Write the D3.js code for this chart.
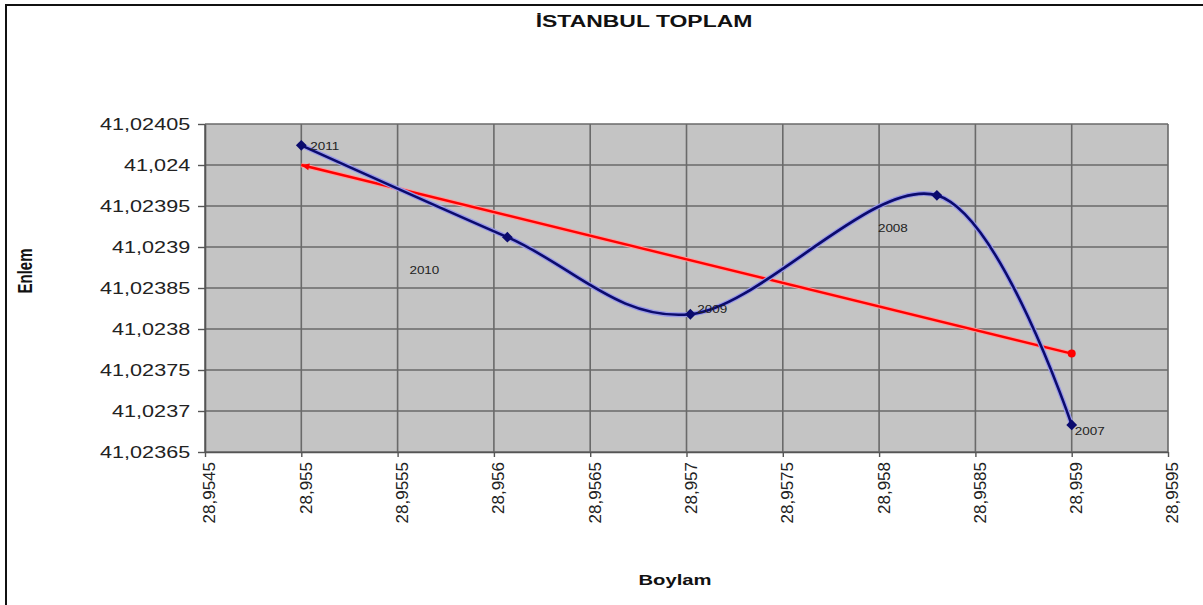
<!DOCTYPE html>
<html>
<head>
<meta charset="utf-8">
<script src="https://cdn.jsdelivr.net/npm/d3@7"></script>
<style>
  html, body { margin: 0; padding: 0; background: #fff; }
  svg { display: block; font-family: "Liberation Sans", Arial, sans-serif; }
</style>
</head>
<body>
<div id="chart"></div>
<script>
// data
const years = ['2011', '2010', '2009', '2008', '2007']
const boylam = [28.955, 28.95607, 28.95702, 28.9583, 28.959]
const enlem = [41.024024, 41.023912, 41.023818, 41.023963, 41.023683]

// linear trend line, the two ends as drawn
const trendBoylam = [28.955, 28.959]
const trendEnlem = [41.024, 41.02377]

const xTicks = [28.9545, 28.955, 28.9555, 28.956, 28.9565, 28.957, 28.9575, 28.958, 28.9585, 28.959, 28.9595]
const yTicks = [41.02365, 41.0237, 41.02375, 41.0238, 41.02385, 41.0239, 41.02395, 41.024, 41.02405]

const width = 1203
const height = 605
const margin = { top: 124, right: 35, bottom: 153, left: 205 }
const stretch = 1.35 // text in the picture is widened horizontally

const loc = d3.formatLocale({ decimal: ',', thousands: '.', grouping: [3], currency: ['', ''] })
const fmtY = loc.format('.5~f')
const fmtX = loc.format('.4~f')

const svg = d3.select('#chart')
  .append('svg')
  .attr('width', width)
  .attr('height', height)

// outer chart border (top + left only visible)
svg.append('path')
  .attr('d', `M6,${height} V5 H${width}`)
  .attr('fill', 'none')
  .attr('stroke', '#111')
  .attr('stroke-width', 2)

const x = d3.scaleLinear()
  .domain([xTicks[0], xTicks[xTicks.length - 1]])
  .range([margin.left, width - margin.right])

const y = d3.scaleLinear()
  .domain([yTicks[0], yTicks[yTicks.length - 1]])
  .range([height - margin.bottom, margin.top])

// plot area
svg.append('rect')
  .attr('x', x.range()[0])
  .attr('y', y.range()[1])
  .attr('width', x.range()[1] - x.range()[0])
  .attr('height', y.range()[0] - y.range()[1])
  .attr('fill', '#c4c4c4')

// gridlines
const grid = svg.append('g').attr('stroke', '#6a6a6a').attr('stroke-width', 1.6)
grid.selectAll('.gx')
  .data(xTicks)
  .join('line')
  .attr('x1', d => x(d)).attr('x2', d => x(d))
  .attr('y1', y.range()[0]).attr('y2', y.range()[1])
grid.selectAll('.gy')
  .data(yTicks)
  .join('line')
  .attr('y1', d => y(d)).attr('y2', d => y(d))
  .attr('x1', x.range()[0]).attr('x2', x.range()[1])

// axes
const yAxis = svg.append('g')
  .attr('transform', `translate(${margin.left},0)`)
  .call(d3.axisLeft(y).tickValues(yTicks).tickFormat(fmtY).tickSize(7).tickSizeOuter(0))
yAxis.select('.domain').attr('stroke', '#555').attr('stroke-width', 1.6)
yAxis.selectAll('.tick line').attr('stroke', '#555').attr('stroke-width', 1.4)
yAxis.selectAll('.tick text')
  .attr('x', -11)
  .attr('transform', `scale(${stretch},1)`)
  .attr('font-size', 16)
  .attr('fill', '#222')

const xAxis = svg.append('g')
  .attr('transform', `translate(0,${height - margin.bottom})`)
  .call(d3.axisBottom(x).tickValues(xTicks).tickFormat(fmtX).tickSize(5).tickSizeOuter(0))
xAxis.select('.domain').attr('stroke', '#555').attr('stroke-width', 1.6)
xAxis.selectAll('.tick line').attr('stroke', '#555').attr('stroke-width', 1.4)
xAxis.selectAll('.tick text')
  .attr('transform', 'rotate(-90)')
  .attr('x', -10)
  .attr('y', 4)
  .attr('dy', '0.35em')
  .attr('text-anchor', 'end')
  .attr('font-size', 17)
  .attr('fill', '#222')

// trend line (red)
const trend = d3.zip(trendBoylam, trendEnlem)
const straight = d3.line().x(d => x(d[0])).y(d => y(d[1]))
svg.append('path')
  .attr('d', straight(trend))
  .attr('fill', 'none')
  .attr('stroke', '#ff9a9a')
  .attr('stroke-width', 4.5)
svg.append('path')
  .attr('d', straight(trend))
  .attr('fill', 'none')
  .attr('stroke', '#f00')
  .attr('stroke-width', 2.4)
const t0 = trend[0]
const t1 = trend[1]
const ang = Math.atan2(y(t1[1]) - y(t0[1]), x(t1[0]) - x(t0[0])) * 180 / Math.PI
svg.append('path')
  .attr('d', 'M0,0 L8,-3.5 L8,3.5 Z')
  .attr('transform', `translate(${x(t0[0])},${y(t0[1])}) rotate(${ang})`)
  .attr('fill', '#f00')
svg.append('circle')
  .attr('cx', x(t1[0]))
  .attr('cy', y(t1[1]))
  .attr('r', 4)
  .attr('fill', '#f00')

// smoothed series (navy)
const points = years.map((yr, i) => ({ year: yr, lon: boylam[i], lat: enlem[i] }))
const smooth = d3.line()
  .x(d => x(d.lon))
  .y(d => y(d.lat))
  .curve(d3.curveCatmullRom.alpha(0))

svg.append('path')
  .attr('d', smooth(points))
  .attr('fill', 'none')
  .attr('stroke', '#9a9ae8')
  .attr('stroke-width', 5)
svg.append('path')
  .attr('d', smooth(points))
  .attr('fill', 'none')
  .attr('stroke', '#0b0b6e')
  .attr('stroke-width', 2.6)

// square diamonds (a rotated square, as Excel draws them)
svg.selectAll('.marker')
  .data(points)
  .join('path')
  .attr('class', 'marker')
  .attr('d', d3.symbol(d3.symbolSquare, 58))
  .attr('transform', d => `translate(${x(d.lon)},${y(d.lat)}) rotate(45)`)
  .attr('fill', '#0b0b6e')

// data labels, nudged where the picture has them away from the point
const labelNudge = {
  2011: [9, 5], 2010: [-98, 37], 2009: [7, -1], 2008: [-59, 37], 2007: [3, 10],
}
svg.selectAll('.dlabel')
  .data(points)
  .join('text')
  .attr('class', 'dlabel')
  .attr('transform', d => {
    const n = labelNudge[d.year]
    return `translate(${x(d.lon) + n[0]},${y(d.lat) + n[1]}) scale(${stretch},1)`
  })
  .attr('font-size', 10)
  .attr('fill', '#222')
  .text(d => d.year)

// titles
svg.append('text')
  .attr('transform', `translate(644,27) scale(${stretch},1)`)
  .attr('text-anchor', 'middle')
  .attr('font-size', 17)
  .attr('font-weight', 'bold')
  .attr('fill', '#111')
  .text('İSTANBUL TOPLAM')

svg.append('text')
  .attr('transform', `translate(675,585) scale(${stretch},1)`)
  .attr('text-anchor', 'middle')
  .attr('font-size', 15)
  .attr('font-weight', 'bold')
  .attr('fill', '#111')
  .text('Boylam')

svg.append('text')
  .attr('transform', `translate(32,271) rotate(-90) scale(1,${stretch})`)
  .attr('text-anchor', 'middle')
  .attr('font-size', 15)
  .attr('font-weight', 'bold')
  .attr('fill', '#111')
  .text('Enlem')
</script>
</body>
</html>
